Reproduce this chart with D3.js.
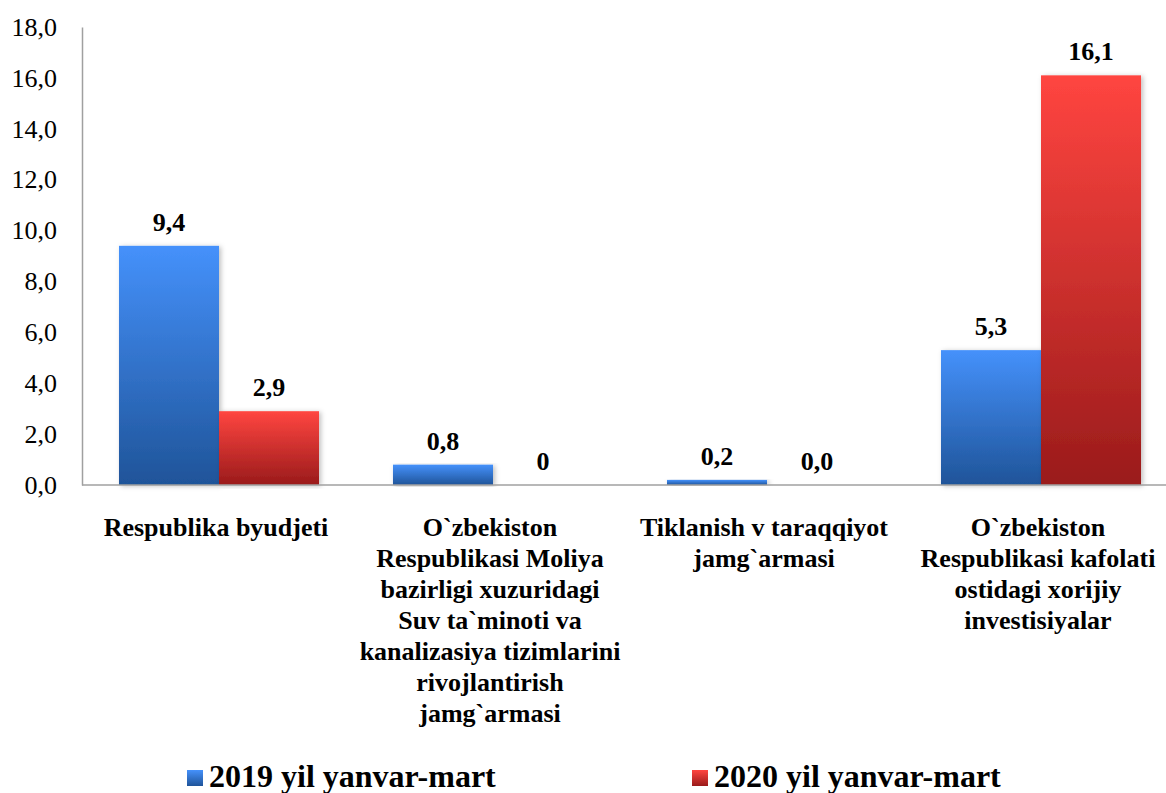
<!DOCTYPE html>
<html>
<head>
<meta charset="utf-8">
<script src="https://cdn.jsdelivr.net/npm/d3@7/dist/d3.min.js"></script>
<style>
html,body{margin:0;padding:0;background:#fff;}
svg{display:block;}
</style>
</head>
<body>
<svg id="chart" width="1166" height="793"></svg>
<script>
const categories = ["c1","c2","c3","c4"];
const categoryLines = [
  ["Respublika byudjeti"],
  ["O`zbekiston","Respublikasi Moliya","bazirligi xuzuridagi","Suv ta`minoti va","kanalizasiya tizimlarini","rivojlantirish","jamg`armasi"],
  ["Tiklanish v taraqqiyot","jamg`armasi"],
  ["O`zbekiston","Respublikasi kafolati","ostidagi xorijiy","investisiyalar"]
];
const seriesNames = ["2019 yil yanvar-mart","2020 yil yanvar-mart"];
const values2019 = [9.4, 0.8, 0.2, 5.3];
const values2020 = [2.9, 0, 0, 16.1];
const labels2019 = ["9,4","0,8","0,2","5,3"];
const labels2020 = ["2,9","0","0,0","16,1"];
const yTicks = [0,2,4,6,8,10,12,14,16,18];

const FONT = '"Liberation Serif"';
const svg = d3.select("#chart");
const defs = svg.append("defs");
const gradStops = [
  {id:"gBlue", top:"#4591fb", bottom:"#1f5499"},
  {id:"gRed", top:"#ff4540", bottom:"#9a1b1b"}
];
gradStops.forEach(g=>{
  const lg = defs.append("linearGradient").attr("id",g.id).attr("x1",0).attr("y1",0).attr("x2",0).attr("y2",1);
  lg.append("stop").attr("offset","0%").attr("stop-color",g.top);
  lg.append("stop").attr("offset","100%").attr("stop-color",g.bottom);
});
const f = defs.append("filter").attr("id","shadow").attr("x","-10%").attr("y","-5%").attr("width","130%").attr("height","110%");
f.append("feDropShadow").attr("dx",2).attr("dy",1).attr("stdDeviation",2.5).attr("flood-color","#000").attr("flood-opacity",0.25);

const mLeft = 82, mRight = 1178, mTop = 27, mBottom = 485;
const y = d3.scaleLinear().domain([0,18]).range([mBottom, mTop]);
const x0 = d3.scaleBand().domain(categories).range([mLeft, mRight]).paddingInner(0.27).paddingOuter(0.135);
const x1 = d3.scaleBand().domain(seriesNames).range([0, x0.bandwidth()]);

// y axis
const yAxis = d3.axisLeft(y).tickValues(yTicks).tickSize(0).tickPadding(25)
  .tickFormat(d => d3.format(".1f")(d).replace(".", ","));
const yg = svg.append("g").attr("transform",`translate(${mLeft},0)`).call(yAxis);
yg.attr("font-family", null).attr("font-size", null);
yg.select(".domain").attr("stroke","#a0a0a0").attr("stroke-width",1.5);
yg.selectAll("text").attr("font-size",26).attr("fill","#000").style("font-family", FONT);

// bars
const data = categories.map((c,i)=>({c, vals:[
  {s:seriesNames[0], v:values2019[i], lab:labels2019[i], fill:"url(#gBlue)"},
  {s:seriesNames[1], v:values2020[i], lab:labels2020[i], fill:"url(#gRed)"}
]}));
const groups = svg.append("g").selectAll("g").data(data).join("g")
  .attr("transform", d=>`translate(${x0(d.c)},0)`);
groups.selectAll("rect").data(d=>d.vals).join("rect")
  .attr("x", d=>x1(d.s)).attr("width", x1.bandwidth())
  .attr("y", d=>y(d.v)).attr("height", d=>y(0)-y(d.v))
  .attr("fill", d=>d.fill).attr("filter","url(#shadow)");
groups.selectAll("text.val").data(d=>d.vals).join("text").attr("class","val")
  .attr("x", d=>x1(d.s)+x1.bandwidth()/2).attr("y", d=>y(d.v)-15)
  .attr("text-anchor","middle").attr("font-size",26).attr("font-weight","bold").attr("fill","#000")
  .style("font-family", FONT)
  .text(d=>d.lab);

// baseline
svg.append("line").attr("x1",mLeft).attr("x2",1166).attr("y1",y(0)).attr("y2",y(0))
  .attr("stroke","#a0a0a0").attr("stroke-width",1.5);

// category labels
const catG = svg.append("g");
categories.forEach((c,i)=>{
  const cx = x0(c)+x0.bandwidth()/2 - 3;
  const t = catG.append("text").attr("text-anchor","middle").attr("font-size",26).attr("font-weight","bold")
    .style("font-family", FONT).attr("x", cx).attr("y", 536);
  categoryLines[i].forEach((ln,j)=>{
    t.append("tspan").attr("x", cx).attr("dy", j===0?0:31).style("font-family", FONT).text(ln);
  });
});

// legend
const legend = [
  {name:seriesNames[0], fill:"url(#gBlue)", x:187},
  {name:seriesNames[1], fill:"url(#gRed)", x:692}
];
const lg = svg.append("g").selectAll("g").data(legend).join("g").attr("transform",d=>`translate(${d.x},0)`);
lg.append("rect").attr("x",0).attr("y",770).attr("width",16).attr("height",16).attr("fill",d=>d.fill);
lg.append("text").attr("x",22).attr("y",787).attr("font-size",32).attr("font-weight","bold")
  .style("font-family", FONT).text(d=>d.name);
</script>
</body>
</html>
